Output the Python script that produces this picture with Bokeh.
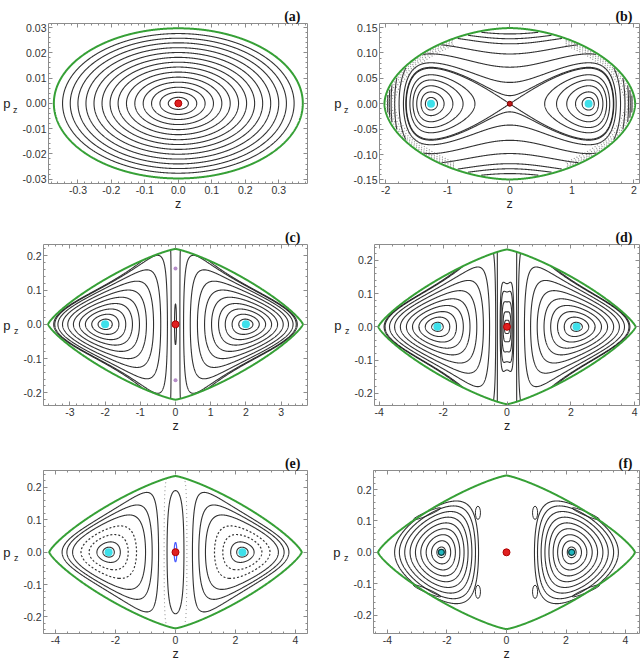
import numpy as np
from contourpy import contour_generator
from bokeh.plotting import figure
from bokeh.layouts import column, row
from bokeh.models import LinearAxis, Range1d, SingleIntervalTicker, PrintfTickFormatter
from bokeh.embed import file_html
from bokeh.resources import INLINE

# ================= values =================
panel_tags = ["(a)", "(b)", "(c)", "(d)", "(e)", "(f)"]

z_lo = [-0.388, -2.10, -3.75, -4.15, -4.40, -4.47]
z_hi = [0.386, 2.09, 3.75, 4.15, 4.40, 4.47]
p_lo = [-0.0317, -0.157, -0.237, -0.237, -0.251, -0.259]
p_hi = [0.0316, 0.158, 0.233, 0.248, 0.252, 0.261]
z_step = [0.1, 1.0, 1.0, 2.0, 2.0, 2.0]
p_step = [0.01, 0.05, 0.1, 0.1, 0.1, 0.1]
z_format = ["%.1f", "%d", "%d", "%d", "%d", "%d"]
p_format = ["%.2f", "%.2f", "%.1f", "%.1f", "%.1f", "%.1f"]

# green energy boundary (half widths, superellipse exponent)
bound_zmax = [0.372, 2.02, 3.62, 4.03, 4.21, 4.32]
bound_pmax = [0.0297, 0.149, 0.220, 0.233, 0.235, 0.245]
bound_expo = [2.0, 1.8, 1.25, 1.25, 1.25, 1.25]

# fixed points
red_z = [0.0, 0.0, 0.0, 0.0, 0.0, 0.0]
cyan_panel = [1, 2, 3, 4, 5]
cyan_z = [1.27, 2.00, 2.18, 2.23, 2.19]
c_purple_p = [0.163, -0.163]

# (a) nested ellipses: right-hand crossings of p_z = 0
a_ring_z = [0.030, 0.055, 0.080, 0.105, 0.130, 0.155, 0.180, 0.204, 0.228, 0.252, 0.276, 0.300, 0.323, 0.346]
# (b) rings inside the two wells (outer crossing) and curves round both wells (p_z at z = 0)
b_lobe_z = [1.36, 1.43, 1.50, 1.56, 1.61]
b_outer_p = [0.016, 0.042, 0.072, 0.098, 0.118, 0.128, 0.1375]
b_band_levels = [0.86, 0.90, 0.935, 0.965]      # scattered band just inside the boundary
# (c)-(f) rings round the cyan points (outer crossing) and round the centre (p_z at z = 0)
c_ring_z = [2.20, 2.38, 2.56, 2.73, 2.90, 3.06, 3.21, 3.34, 3.43]
c_core_p = [0.06]
d_ring_z = [2.36, 2.56, 2.76, 2.96, 3.15, 3.34, 3.52, 3.68, 3.82]
d_core_p = [0.02, 0.045, 0.075, 0.105, 0.13]
e_ring_z = [2.42, 2.62, 3.43, 3.62, 3.78]
e_dot_ring_z = [2.88, 3.15]
e_core_p = [0.19]
e_blue_p = [0.03]
f_ring_z = [2.34, 2.52, 2.70, 2.88, 3.06, 3.24, 3.42, 3.60, 3.76]
# (f) island chains (upper right quadrant, mirrored)
f_island_z = [0.96, 2.67]
f_island_p = [0.126, 0.123]
f_island_w = [0.17, 1.0]
f_island_h = [0.042, 0.012]
f_island_ang = [0.0, -23.0]

# model shapes that reproduce the ring families
b_model = dict(zc=1.27, gamma=0.3, kappa=194.0, lam=2000.0)
lobe_models = {
    2: dict(zcyan=2.00, eps=0.5, s=2.0, beta=-0.05, z1=0.12, delta=0.03, q=2.0, kappa=42.0),
    3: dict(zcyan=2.18, eps=0.3, s=4.0, beta=-0.05, z1=0.30, delta=0.05, q=2.0, kappa=38.1),
    4: dict(zcyan=2.23, eps=0.8, s=2.0, beta=0.05, z1=0.40, delta=0.05, q=2.0, kappa=28.7),
    5: dict(zcyan=2.19, eps=0.5, s=2.0, beta=0.186, z1=0.60, delta=0.05, q=0.5, kappa=103.0),
}

# ================= helpers =================
INK = "#1c1c1c"
GREEN = "#36a036"
FRAME = "#8c8c8c"
SANS = "Liberation Sans"


def well_H(Z, P, m):
    u = (Z / m["zc"]) ** 2
    V = (u - 1) ** 2 * (1 + m["gamma"] * u ** 2)
    return V + m["kappa"] * P ** 2 + m["lam"] * P ** 4


def lobe_H(Z, P, m):
    s = m["s"]
    R0 = (m["zcyan"] ** s + m["eps"] ** s) ** (1.0 / s)
    r = (np.abs(Z) ** s + m["eps"] ** s) ** (1.0 / s)
    d = r - R0
    V = d ** 2 - m["beta"] * d ** 3
    rg = np.hypot(Z, m["delta"])
    rg1 = np.hypot(m["z1"], m["delta"])
    g = rg ** m["q"] - rg1 ** m["q"]
    return V + m["kappa"] * g * P ** 2


def lines_for(zg, pg, H, mask, levels):
    gen = contour_generator(zg, pg, np.ma.masked_array(H, mask=mask), line_type="Separate")
    xs, ys = [], []
    for lv in sorted(set(levels)):
        for seg in gen.lines(lv):
            if len(seg) > 2:
                xs.append(seg[:, 0].tolist())
                ys.append(seg[:, 1].tolist())
    return xs, ys


def draw(p, xs, ys, color=INK, width=1.0, dash="solid", alpha=0.9):
    if xs:
        p.multi_line(xs=xs, ys=ys, line_color=color, line_width=width, line_dash=dash, line_alpha=alpha)


def style_axis(ax, step, fmt, labels, ticks=True):
    ax.ticker = SingleIntervalTicker(interval=step, num_minor_ticks=5)
    ax.formatter = PrintfTickFormatter(format=fmt)
    ax.axis_line_color = None
    ax.major_tick_in = 4 if ticks else 0
    ax.major_tick_out = 0
    ax.minor_tick_in = 2 if ticks else 0
    ax.minor_tick_out = 0
    ax.major_tick_line_color = FRAME if ticks else None
    ax.minor_tick_line_color = FRAME if ticks else None
    ax.major_label_text_font = SANS
    if labels:
        ax.major_label_text_color = "#333333"
        ax.major_label_text_font_size = "10.5px"
        ax.major_label_standoff = 2
    else:
        ax.major_label_text_color = None
        ax.major_label_text_font_size = "1px"
        ax.major_label_standoff = 0


def make_panel(i, width, height, bl, br, bt, bb):
    p = figure(width=width, height=height, title=panel_tags[i],
               x_range=Range1d(z_lo[i], z_hi[i]), y_range=Range1d(p_lo[i], p_hi[i]),
               output_backend="svg", toolbar_location=None,
               min_border_left=bl, min_border_right=br, min_border_top=bt, min_border_bottom=bb)
    p.title.align = "right"
    p.title.offset = 7
    p.title.standoff = 0
    p.title.text_font = "Liberation Serif"
    p.title.text_font_style = "bold"
    p.title.text_font_size = "14px"
    p.title.text_color = "#111111"
    p.grid.visible = False
    p.outline_line_color = FRAME
    bottom_axis = p.xaxis[0]
    left_axis = p.yaxis[0]
    style_axis(bottom_axis, z_step[i], z_format[i], True)
    style_axis(left_axis, p_step[i], p_format[i], True)
    bottom_axis.axis_label = "z"
    bottom_axis.axis_label_text_font = SANS
    bottom_axis.axis_label_text_font_style = "normal"
    bottom_axis.axis_label_text_font_size = "12.5px"
    bottom_axis.axis_label_text_color = "#222222"
    bottom_axis.axis_label_standoff = 0
    # subscript "z" of p_z (inner) and "p" (outer)
    left_axis.axis_label = "\nz"
    left_axis.axis_label_orientation = "horizontal"
    left_axis.axis_label_text_font = SANS
    left_axis.axis_label_text_font_style = "normal"
    left_axis.axis_label_text_font_size = "9px"
    left_axis.axis_label_text_color = "#222222"
    left_axis.axis_label_standoff = 2
    outer = LinearAxis()
    style_axis(outer, p_step[i], p_format[i], False, ticks=False)
    outer.axis_label = "p"
    outer.axis_label_orientation = "horizontal"
    outer.axis_label_text_font = SANS
    outer.axis_label_text_font_style = "normal"
    outer.axis_label_text_font_size = "13px"
    outer.axis_label_text_color = "#222222"
    outer.axis_label_standoff = 0
    p.add_layout(outer, "left")
    top = LinearAxis()
    right = LinearAxis()
    style_axis(top, z_step[i], z_format[i], False)
    style_axis(right, p_step[i], p_format[i], False)
    p.add_layout(top, "above")
    p.add_layout(right, "right")
    return p


def grid_for(i, nz=801, npz=601):
    zg = np.linspace(z_lo[i], z_hi[i], nz)
    pg = np.linspace(p_lo[i], p_hi[i], npz)
    Z, P = np.meshgrid(zg, pg)
    B = (np.abs(Z) / bound_zmax[i]) ** bound_expo[i] + (np.abs(P) / bound_pmax[i]) ** bound_expo[i]
    return zg, pg, Z, P, B


def draw_boundary(p, zg, pg, B):
    xs, ys = lines_for(zg, pg, B, np.zeros_like(B, dtype=bool), [1.0])
    draw(p, xs, ys, color=GREEN, width=2.0, alpha=1.0)


layout_spec = [
    # width, height, left, right, top, bottom
    (321, 221, 46, 14, 23, 38),
    (321, 221, 58, 3, 23, 38),
    (321, 221, 40, 14, 23, 32),
    (321, 221, 53, 3, 23, 37),
    (321, 221, 40, 14, 28, 28),
    (321, 221, 52, 3, 28, 28),
]

panels = []
for i in range(6):
    w, h, bl, br, bt, bb = layout_spec[i]
    panels.append(make_panel(i, w, h, bl, br, bt, bb))

# ---------- (a) ----------
p = panels[0]
zg, pg, Z, P, B = grid_for(0)
Ha = (Z / bound_zmax[0]) ** 2 + (P / bound_pmax[0]) ** 2
xs, ys = lines_for(zg, pg, Ha, B > 1.0, [(z / bound_zmax[0]) ** 2 for z in a_ring_z])
draw(p, xs, ys, width=1.1)
draw_boundary(p, zg, pg, B)
p.scatter(x=[red_z[0]], y=[0.0], size=7, fill_color="#e02020", line_color="#b00000")

# ---------- (b) ----------
p = panels[1]
zg, pg, Z, P, B = grid_for(1)
Hb = well_H(Z, P, b_model)
lv = [float(well_H(np.array(z), np.array(0.0), b_model)) for z in b_lobe_z]
lv += [float(well_H(np.array(0.0), np.array(q), b_model)) for q in b_outer_p]
lv += [1.0]
xs, ys = lines_for(zg, pg, Hb, B > 0.975, lv)
draw(p, xs, ys, width=1.1)
xs, ys = lines_for(zg, pg, B, np.abs(Z) < 0.9, b_band_levels)
draw(p, xs, ys, color="#777777", width=1.2, dash="1 2", alpha=0.8)
draw_boundary(p, zg, pg, B)
p.scatter(x=[red_z[1]], y=[0.0], size=5, fill_color="#c01818", line_color="#7a0000")

# ---------- (c)-(f) ----------
for i in [2, 3, 4, 5]:
    p = panels[i]
    m = lobe_models[i]
    zg, pg, Z, P, B = grid_for(i)
    cell = zg[1] - zg[0]
    H = lobe_H(Z, P, m)
    Es = float(lobe_H(np.array(m["z1"]), np.array(0.0), m))
    outer_mask = B > 1.0
    lobe_mask = outer_mask | (np.abs(Z) < m["z1"] - 1.2 * cell)
    core_mask = outer_mask | (np.abs(Z) > m["z1"] + 1.2 * cell)
    ring_src = {2: c_ring_z, 3: d_ring_z, 4: e_ring_z, 5: f_ring_z}[i]
    lv = [float(lobe_H(np.array(z), np.array(0.0), m)) for z in ring_src]
    if i in (2, 3):
        lv.append(Es - 0.003)
    xs, ys = lines_for(zg, pg, H, lobe_mask, lv)
    draw(p, xs, ys, width=1.1)
    if i in (2, 3, 4):
        core_src = {2: c_core_p, 3: d_core_p, 4: e_core_p}[i]
        lvc = [float(lobe_H(np.array(0.0), np.array(q), m)) for q in core_src]
        xs, ys = lines_for(zg, pg, H, core_mask, lvc)
        draw(p, xs, ys, width=1.1)
    if i == 4:
        lvd = [float(lobe_H(np.array(z), np.array(0.0), m)) for z in e_dot_ring_z]
        xs, ys = lines_for(zg, pg, H, lobe_mask, lvd)
        draw(p, xs, ys, width=1.2, dash="2 2")
        lvb = [float(lobe_H(np.array(0.0), np.array(q), m)) for q in e_blue_p]
        xs, ys = lines_for(zg, pg, H, core_mask, lvb)
        draw(p, xs, ys, color="#4a5cff", width=1.2, alpha=1.0)
        xs, ys = lines_for(zg, pg, H, core_mask, [Es + 0.03])
        draw(p, xs, ys, color="#666666", width=1.0, dash="1 3", alpha=0.8)
    if i == 5:
        iz, ip, iw, ih, ia = [], [], [], [], []
        for k in range(len(f_island_z)):
            for sz in (1, -1):
                for sp in (1, -1):
                    iz.append(sz * f_island_z[k])
                    ip.append(sp * f_island_p[k])
                    iw.append(f_island_w[k])
                    ih.append(f_island_h[k])
                    ia.append(sz * sp * f_island_ang[k])
        p.ellipse(x=iz, y=ip, width=iw, height=ih, angle=ia, angle_units="deg",
                  fill_color=None, line_color=INK, line_width=1.0, line_alpha=0.9)
    draw_boundary(p, zg, pg, B)
    if i == 2:
        p.scatter(x=[0.0, 0.0], y=c_purple_p, size=4, fill_color="#b58cc8", line_color=None)

# fixed-point markers
for k, i in enumerate(cyan_panel):
    p = panels[i]
    if i == 5:
        p.scatter(x=[-cyan_z[k], cyan_z[k]], y=[0.0, 0.0], size=6, fill_color="#20b8c0",
                  line_color="#0a3a3a", line_width=1.2)
    else:
        p.scatter(x=[-cyan_z[k], cyan_z[k]], y=[0.0, 0.0], size=8, fill_color="#3ee0ea", line_color=None)
for i in [2, 3, 4, 5]:
    panels[i].scatter(x=[red_z[i]], y=[0.0], size=7, fill_color="#e02020", line_color="#b00000")

layout = column(row(panels[0], panels[1]), row(panels[2], panels[3]), row(panels[4], panels[5]))
open("out.html", "w").write(file_html(layout, INLINE))
